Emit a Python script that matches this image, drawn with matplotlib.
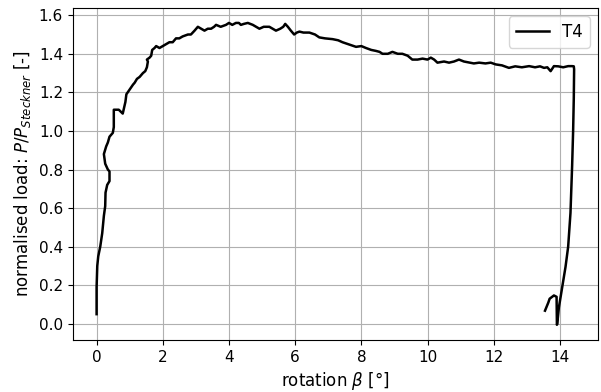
import numpy as np
import matplotlib.pyplot as plt

rotation = [
    0.00, 0.00, 0.02, 0.05, 0.11, 0.17, 0.22, 0.26, 0.27, 0.32, 0.39, 0.39,
    0.34, 0.26, 0.22, 0.29, 0.34, 0.39, 0.49, 0.52, 0.52, 0.60, 0.67, 0.79,
    0.87, 0.90, 1.02, 1.10, 1.15, 1.22, 1.30, 1.40, 1.47, 1.52, 1.55, 1.52,
    1.60, 1.65, 1.68, 1.75, 1.80, 1.90, 2.00, 2.10, 2.20, 2.30, 2.40, 2.50,
    2.60, 2.76, 2.85, 2.96, 3.06, 3.16, 3.26, 3.36, 3.46, 3.55, 3.61, 3.75,
    3.91, 4.00, 4.10, 4.21, 4.30, 4.36, 4.45, 4.57, 4.72, 4.82, 4.92, 5.05,
    5.22, 5.32, 5.42, 5.55, 5.64, 5.70, 5.78, 5.87, 5.97, 6.05, 6.13, 6.25,
    6.43, 6.60, 6.73, 6.90, 7.13, 7.30, 7.43, 7.60, 7.84, 8.00, 8.14, 8.30,
    8.44, 8.55, 8.64, 8.80, 8.94, 9.10, 9.24, 9.40, 9.54, 9.70, 9.85, 10.00,
    10.10, 10.20, 10.30, 10.50, 10.65, 10.80, 10.95, 11.10, 11.25, 11.40,
    11.56, 11.75, 11.91, 12.06, 12.25, 12.46, 12.65, 12.85, 13.07, 13.25,
    13.40, 13.52, 13.62, 13.72, 13.78, 13.82, 13.95, 14.10, 14.25, 14.37,
    14.42, 14.43, 14.42, 14.40, 14.37, 14.32, 14.25, 14.17, 14.07, 13.97,
    13.92, 13.91, 13.90, 13.82, 13.69, 13.65, 13.55,
]
load = [
    0.05, 0.19, 0.30, 0.35, 0.40, 0.47, 0.56, 0.61, 0.68, 0.72, 0.74, 0.79,
    0.80, 0.83, 0.88, 0.92, 0.94, 0.97, 0.99, 1.02, 1.11, 1.11, 1.11, 1.09,
    1.15, 1.19, 1.22, 1.24, 1.25, 1.27, 1.28, 1.30, 1.31, 1.33, 1.36, 1.37,
    1.38, 1.39, 1.42, 1.43, 1.44, 1.43, 1.44, 1.45, 1.46, 1.46, 1.48, 1.48,
    1.49, 1.50, 1.50, 1.52, 1.54, 1.53, 1.52, 1.53, 1.53, 1.54, 1.55, 1.54,
    1.55, 1.56, 1.55, 1.56, 1.56, 1.55, 1.555, 1.56, 1.55, 1.54, 1.53, 1.54,
    1.54, 1.53, 1.52, 1.53, 1.54, 1.555, 1.54, 1.52, 1.50, 1.51, 1.515, 1.51,
    1.51, 1.50, 1.485, 1.48, 1.476, 1.47, 1.46, 1.45, 1.436, 1.44, 1.43, 1.42,
    1.415, 1.41, 1.40, 1.40, 1.41, 1.40, 1.40, 1.39, 1.37, 1.37, 1.375, 1.37,
    1.38, 1.37, 1.354, 1.36, 1.354, 1.36, 1.37, 1.36, 1.355, 1.35,
    1.354, 1.35, 1.354, 1.345, 1.34, 1.327, 1.335, 1.33, 1.336, 1.33,
    1.335, 1.327, 1.33, 1.31, 1.325, 1.336, 1.335, 1.33, 1.336, 1.336,
    1.335, 1.32, 1.17, 1.00, 0.82, 0.575, 0.40, 0.295, 0.19, 0.085,
    0.00, -0.005, 0.14, 0.147, 0.13, 0.11, 0.068,
]

fig, ax = plt.subplots(figsize=(6.01, 3.92), dpi=100)
fig.subplots_adjust(left=0.121, right=0.995, bottom=0.133, top=0.98)

ax.plot(rotation, load, color='black', linewidth=1.8, label='T4')

ax.set_xlabel(r'rotation $\beta$ [°]', fontsize=12)
ax.set_ylabel(r'normalised load: $P/P_{Steckner}$ [-]', fontsize=12)
ax.tick_params(labelsize=11)
ax.set_xticks(np.arange(0, 15, 2))
ax.set_yticks(np.arange(0, 1.61, 0.2))
ax.grid(True, color='#b0b0b0', linewidth=0.8)
ax.legend(loc='upper right', fontsize=12)

fig.savefig('out.png', dpi=100)
